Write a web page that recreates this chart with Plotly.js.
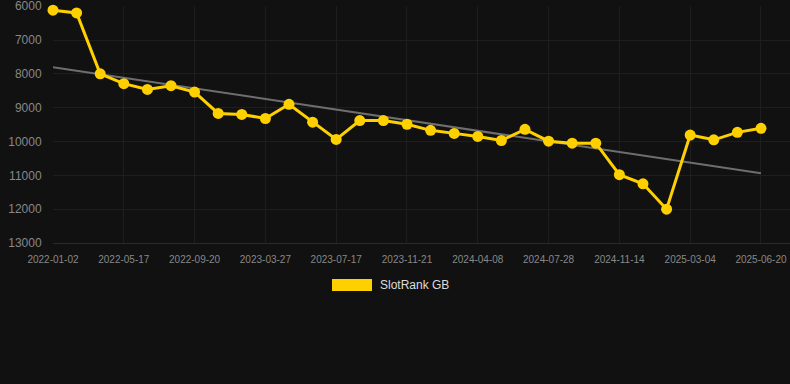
<!DOCTYPE html>
<html>
<head>
<meta charset="utf-8">
<script src="https://cdn.plot.ly/plotly-3.0.1.min.js"></script>
<style>
  html, body { margin: 0; padding: 0; background: #111111; }
  #chart { width: 790px; height: 384px; }
</style>
</head>
<body>
<div id="chart"></div>
<script>
// Categories (dates); labelled ones, others estimated
const dates = [
  "2022-01-02","2022-02-16","2022-04-01","2022-05-17","2022-06-28","2022-08-09",
  "2022-09-20","2022-11-30","2023-01-28","2023-03-27","2023-05-03","2023-06-10",
  "2023-07-17","2023-08-28","2023-10-09","2023-11-21","2024-01-05","2024-02-22",
  "2024-04-08","2024-05-16","2024-06-22","2024-07-28","2024-09-05","2024-10-10",
  "2024-11-14","2024-12-22","2025-01-28","2025-03-04","2025-04-08","2025-05-15",
  "2025-06-20"
];
// SlotRank GB values (rank, lower is better)
const rankGB = [
  6120, 6200, 8000, 8290, 8460, 8350,
  8540, 9170, 9200, 9320, 8900, 9430,
  9940, 9380, 9380, 9490, 9670, 9760,
  9850, 9970, 9640, 9990, 10050, 10050,
  10980, 11250, 12000, 9810, 9950, 9730,
  9610
];
const tickDates = ["2022-01-02","2022-05-17","2022-09-20","2023-03-27","2023-07-17",
  "2023-11-21","2024-04-08","2024-07-28","2024-11-14","2025-03-04","2025-06-20"];
const yTicks = [6000, 7000, 8000, 9000, 10000, 11000, 12000, 13000];
const seriesName = "SlotRank GB";

// Linear regression trend over index
const n = rankGB.length;
let sx = 0, sy = 0, sxx = 0, sxy = 0;
rankGB.forEach((v, i) => { sx += i; sy += v; sxx += i * i; sxy += i * v; });
const slope = (n * sxy - sx * sy) / (n * sxx - sx * sx);
const intercept = (sy - slope * sx) / n;
const trendY = [intercept, intercept + slope * (n - 1)];
const trendX = [dates[0], dates[n - 1]];

const yellow = "#ffd000";

const traces = [
  {
    x: trendX, y: trendY, type: "scatter", mode: "lines",
    line: { color: "#6e6e6e", width: 2 },
    hoverinfo: "skip", showlegend: false
  },
  {
    x: dates, y: rankGB, type: "scatter", mode: "lines+markers",
    name: seriesName,
    line: { color: yellow, width: 3 },
    marker: { color: yellow, size: 11 },
    cliponaxis: false, showlegend: false
  }
];

const layout = {
  width: 790, height: 384,
  paper_bgcolor: "#111111", plot_bgcolor: "#111111",
  margin: { l: 53, r: 0, t: 6, b: 141 },
  font: { family: "Liberation Sans, Arial, sans-serif", color: "#888888" },
  showlegend: false,
  xaxis: {
    type: "category",
    categoryorder: "array", categoryarray: dates,
    range: [0, 31.23],
    tickmode: "array", tickvals: tickDates, ticktext: tickDates,
    showgrid: true, gridcolor: "#1e1e1e", gridwidth: 1,
    showline: true, linecolor: "#2a2a2a", linewidth: 1,
    zeroline: false,
    ticks: "outside", ticklen: 7, tickcolor: "rgba(0,0,0,0)",
    tickfont: { size: 10, color: "#888888" },
    fixedrange: true
  },
  yaxis: {
    range: [13000, 5995],
    tickmode: "array", tickvals: yTicks, ticktext: yTicks.map(String),
    showgrid: true, gridcolor: "#1e1e1e", gridwidth: 1,
    zeroline: false, showline: false,
    ticks: "outside", ticklen: 8, tickcolor: "rgba(0,0,0,0)",
    tickfont: { size: 12, color: "#888888" },
    ticklabeloverflow: "allow",
    fixedrange: true
  },
  shapes: [
    { type: "rect", xref: "paper", yref: "paper",
      x0: (332 - 53) / 737, x1: (372 - 53) / 737,
      y0: (384 - 141 - 291) / 237, y1: (384 - 141 - 279) / 237,
      fillcolor: yellow, line: { width: 0 } }
  ],
  annotations: [
    { xref: "paper", yref: "paper",
      x: (378 - 53) / 737, y: (384 - 141 - 285) / 237,
      xanchor: "left", yanchor: "middle", showarrow: false,
      text: seriesName, font: { size: 12, color: "#dddddd" } }
  ]
};

Plotly.newPlot("chart", traces, layout, { displayModeBar: false, staticPlot: true });
</script>
</body>
</html>
